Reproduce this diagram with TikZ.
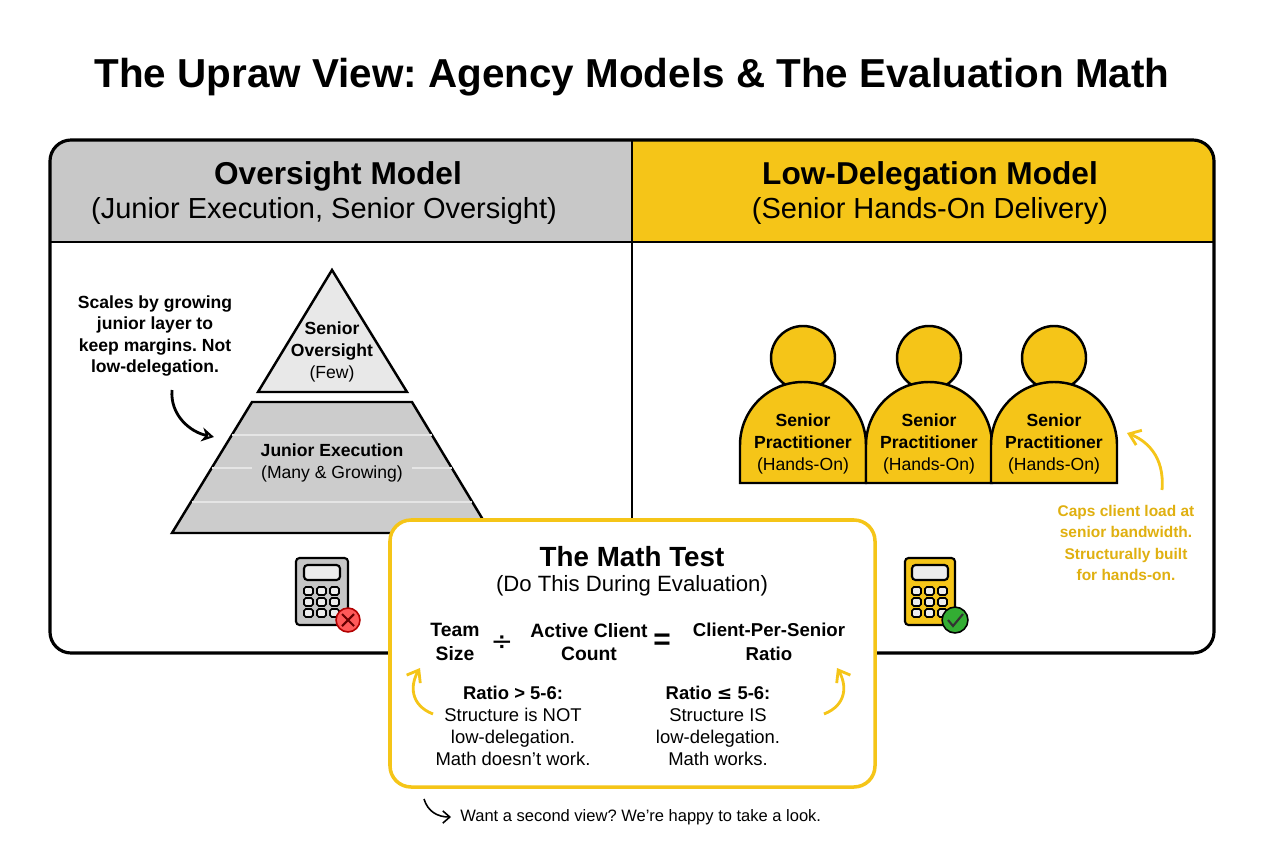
\documentclass[tikz,border=0pt]{standalone}
\usepackage{fontspec}
\setmainfont{Liberation Sans}
\newfontfamily\symf{DejaVu Sans}
\usetikzlibrary{arrows.meta}
\definecolor{ylw}{HTML}{F5C518}
\definecolor{ydk}{HTML}{E0B010}
\definecolor{gr}{HTML}{C8C8C8}
\begin{document}
\frenchspacing
\begin{tikzpicture}[x=0.02cm,y=-0.02cm,
  txt/.style={align=center,inner sep=0pt},
  hd/.style={txt,font=\fontsize{18}{21}\selectfont\bfseries},
  sub/.style={txt,font=\fontsize{16.5}{19}\selectfont},
  sm/.style={txt,font=\fontsize{10}{12.3}\selectfont},
  mth/.style={txt,font=\fontsize{11}{13.5}\selectfont\bfseries},
  carrow/.style={line width=1.6pt,-{Stealth[length=7pt,width=8pt,open]}},
  yarrow/.style={line width=1.6pt,draw=ylw,-{Straight Barb[length=6pt,width=9pt]}},
  calc/.style={line width=1.2pt,rounded corners=2pt}]
\useasboundingbox (0,0) rectangle (1264,848);
\fill[white] (0,0) rectangle (1264,848);
\node[txt,font=\fontsize{23}{27}\selectfont\bfseries] (title) at (632,77) {The Upraw View: Agency Models \& The Evaluation Math};
% panel
\begin{scope}
\clip[rounded corners=12] (50,140) rectangle (1214,653);
\fill[gr] (50,140) rectangle (632,242);
\fill[ylw] (632,140) rectangle (1214,242);
\end{scope}
\draw[line width=1.6pt] (632,140) -- (632,653);
\draw[line width=1.6pt] (50,242) -- (1214,242);
\draw[line width=1.8pt,rounded corners=12] (50,140) rectangle (1214,653);
\node[hd] (lh) at (338,176) {Oversight Model};
\node[sub] (ls) at (324,211) {(Junior Execution, Senior Oversight)};
\node[hd] (rh) at (930,176) {Low-Delegation Model};
\node[sub] (rs) at (930,211) {(Senior Hands-On Delivery)};
% pyramid
\draw[line width=1.4pt,fill=gray!18] (332,270) -- (407,392) -- (258,392) -- cycle;
\node[sm] (so) at (332,352) {\textbf{Senior}\\\textbf{Oversight}\\(Few)};
\draw[line width=1.4pt,fill=gray!40] (252,402) -- (412,402) -- (491,533) -- (172,533) -- cycle;
\draw[gray!20,line width=1.2pt] (232,435) -- (432,435);
\draw[gray!20,line width=1.2pt] (212,468) -- (252,468) (412,468) -- (452,468);
\draw[gray!20,line width=1.2pt] (192,502) -- (472,502);
\node[sm] (je) at (332,463) {\textbf{Junior Execution}\\(Many \& Growing)};
\node[sm,font=\fontsize{10}{12.3}\selectfont\bfseries] (ann) at (155,336) {Scales by growing\\junior layer to\\keep margins. Not\\low-delegation.};
\coordinate (a1) at (172,390);
\coordinate (a2) at (214,437);
\draw[carrow] (a1) .. controls (170,415) and (190,432) .. (a2);
% left calculator
\draw[calc,fill=gray!45] (296,558) rectangle (348,625);
\draw[calc,fill=gray!15] (304,565) rectangle (340,580);
\foreach \i in {0,1,2}\foreach \j in {0,1,2}{\draw[line width=0.9pt,fill=gray!15,rounded corners=1pt] (304+\i*13,587+\j*11) rectangle (313+\i*13,595+\j*11);}
\node[circle,fill=red!65,draw=red!70!black,line width=0.9pt,minimum size=24pt*0.567] (x) at (348,620) {};
\draw[line width=1.2pt,red!40!black] (342,614) -- (354,626) (354,614) -- (342,626);
% persons
\foreach \cx/\nm in {803/p1,929/p2,1054/p3}{
  \draw[line width=1.4pt,fill=ylw] (\cx,358) circle[radius=32];
}
\foreach \cx/\nm in {803/p1,929/p2,1054/p3}{
  \draw[line width=1.4pt,fill=ylw] (\cx-63,483) -- (\cx-63,445) arc[start angle=180,end angle=360,radius=63] -- (\cx+63,483) -- cycle;
  \node[sm] (\nm) at (\cx,444) {\textbf{Senior}\\\textbf{Practitioner}\\(Hands-On)};
}
\coordinate (b1) at (1162,490);
\coordinate (b2) at (1127,433);
\draw[yarrow] (b1) .. controls (1165,455) and (1145,440) .. (b2);
\node[sm,text=ydk,font=\fontsize{8.8}{12.2}\selectfont\bfseries] (caps) at (1126,543) {Caps client load at\\senior bandwidth.\\Structurally built\\for hands-on.};
% right calculator
\draw[calc,fill=ylw] (905,558) rectangle (955,625);
\draw[calc,fill=gray!15] (912,565) rectangle (948,580);
\foreach \i in {0,1,2}\foreach \j in {0,1,2}{\draw[line width=0.9pt,fill=gray!15,rounded corners=1pt] (912+\i*13,587+\j*11) rectangle (921+\i*13,595+\j*11);}
\node[circle,fill=green!60!black!80,draw=black,line width=0.9pt,minimum size=26pt*0.567] (ok) at (955,620) {};
\draw[line width=1.2pt,black!80] (948,620) -- (953,626) -- (963,614);
% math box
\draw[line width=2pt,draw=ylw,fill=white,rounded corners=12] (390,520) rectangle (875,787);
\node[txt,font=\fontsize{15.8}{18}\selectfont\bfseries] (mt) at (632,557) {The Math Test};
\node[txt,font=\fontsize{12.6}{15}\selectfont] (md) at (632,586) {(Do This During Evaluation)};
\node[mth] (ts) at (455,642) {Team\\Size};
\node[mth,font=\fontsize{15}{15}\selectfont\symf] (dv) at (502,643) {÷};
\node[mth] (ac) at (589,642) {Active Client\\Count};
\node[mth,font=\fontsize{17}{17}\selectfont\bfseries] (eq) at (662,642) {=};
\node[mth,font=\fontsize{10.6}{13.5}\selectfont\bfseries] (cr) at (769,642) {Client-Per-Senior\\Ratio};
\node[txt,font=\fontsize{10.5}{12.6}\selectfont] (r1) at (513,726) {\textbf{Ratio > 5-6:}\\Structure is NOT\\low-delegation.\\Math doesn't work.};
\node[txt,font=\fontsize{10.5}{12.6}\selectfont] (r2) at (718,726) {\textbf{Ratio {\symf ≤} 5-6:}\\Structure IS\\low-delegation.\\Math works.};
\coordinate (c1) at (433,714);
\coordinate (c2) at (420,668);
\draw[yarrow] (c1) .. controls (410,705) and (410,685) .. (c2);
\coordinate (d1) at (824,714);
\coordinate (d2) at (837,668);
\draw[yarrow] (d1) .. controls (847,705) and (847,685) .. (d2);
% footer
\coordinate (f1) at (424,799);
\coordinate (f2) at (451,817);
\draw[line width=0.9pt,-{Straight Barb[length=4pt,width=7pt]}] (f1) .. controls (428,812) and (438,817) .. (f2);
\node[txt,anchor=west,font=\fontsize{9.4}{11}\selectfont] (ft) at (460,817) {Want a second view? We’re happy to take a look.};
\end{tikzpicture}
\end{document}
